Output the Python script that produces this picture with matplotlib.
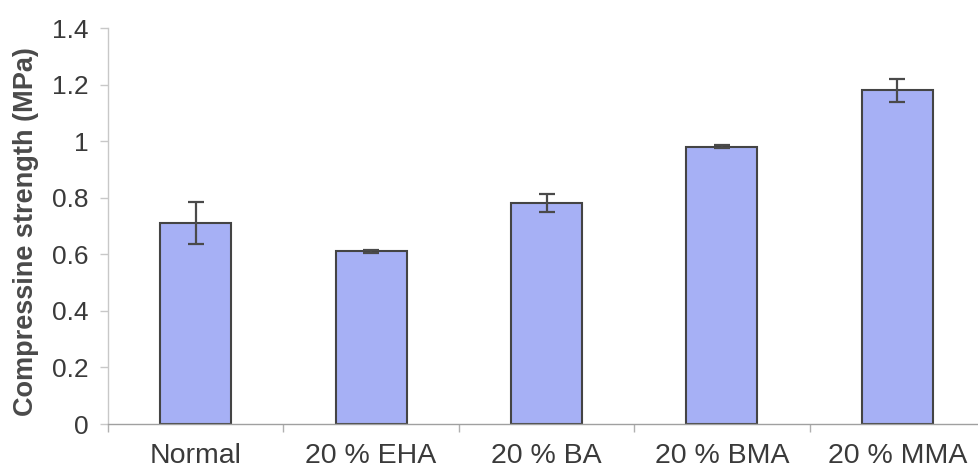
import numpy as np
import matplotlib
matplotlib.use("Agg")
import matplotlib.pyplot as plt

plt.rcParams["font.family"] = ["Liberation Sans", "DejaVu Sans"]

categories = ["Normal", "20 % EHA", "20 % BA", "20 % BMA", "20 % MMA"]
strength = [0.71, 0.61, 0.78, 0.98, 1.18]
strength_err = [0.075, 0.005, 0.032, 0.005, 0.04]
y_ticks = [0, 0.2, 0.4, 0.6, 0.8, 1, 1.2, 1.4]
y_tick_labels = ["0", "0.2", "0.4", "0.6", "0.8", "1", "1.2", "1.4"]

W, H = 979, 473
fig = plt.figure(figsize=(W / 100, H / 100), dpi=100)
ax = fig.add_axes([108 / W, 49 / H, 877 / W, 396 / H])

x = np.arange(len(categories))
ax.bar(x, strength, width=0.405, color="#a6b0f5", edgecolor="#444444",
       linewidth=1.5, zorder=2)
ax.errorbar(x, strength, yerr=strength_err, fmt="none", ecolor="#4a4a4a",
            elinewidth=1.6, capsize=5.5, capthick=1.6, zorder=3)

ax.set_xlim(-0.5, len(categories) - 0.5)
ax.set_ylim(0, 1.4)
ax.set_yticks(y_ticks)
ax.set_yticklabels(y_tick_labels)

# ticks at category boundaries, labels centred under the bars
ax.set_xticks(np.arange(len(categories) + 1) - 0.5)
ax.set_xticklabels([])
ax.set_xticks(x, minor=True)
ax.set_xticklabels(categories, minor=True)

for side in ["top", "right"]:
    ax.spines[side].set_visible(False)
ax.spines["left"].set_color("#c8c8c8")
ax.spines["bottom"].set_color("#a0a0a0")
ax.spines["left"].set_linewidth(1.0)
ax.spines["bottom"].set_linewidth(1.0)

ax.tick_params(axis="y", direction="out", length=6, width=1.0, color="#c8c8c8",
               pad=8, labelsize=19, labelcolor="#3a3a3a")
ax.tick_params(axis="x", which="major", direction="out", length=6, width=1.0,
               color="#b0b0b0")
ax.tick_params(axis="x", which="minor", length=0, pad=14, labelsize=20.5,
               labelcolor="#3a3a3a")

ax.set_ylabel("Compressine strength (MPa)", fontsize=19.5, fontweight="bold",
              color="#4a4a4a")
ax.yaxis.set_label_coords(-69 / 877, 0.487)

fig.savefig("out.png", dpi=100)
